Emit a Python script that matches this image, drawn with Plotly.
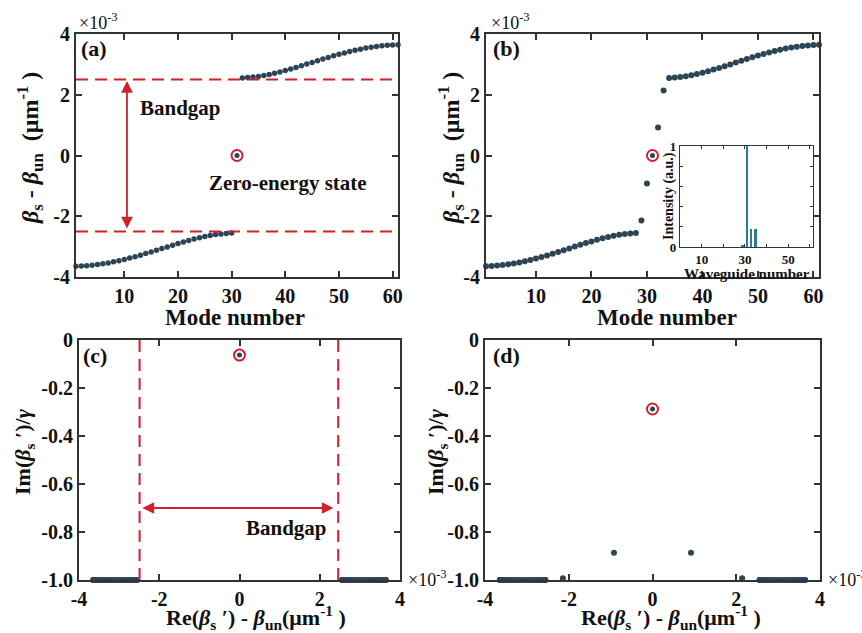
import plotly.graph_objects as go

W, H = 862, 633

# ---------------- data ----------------
# (a) eigenvalues (x1e-3 um^-1), mode numbers 1..61
a_modes_lower = list(range(1, 31))
a_lower = [-3.648, -3.640, -3.628, -3.612, -3.591, -3.565, -3.536, -3.502, -3.464, -3.423,
           -3.378, -3.331, -3.281, -3.229, -3.176, -3.121, -3.065, -3.010, -2.954, -2.900,
           -2.848, -2.797, -2.750, -2.707, -2.667, -2.633, -2.604, -2.581, -2.564, -2.553]
a_zero_mode = [31]
a_zero_val = [0.0]
a_modes_upper = list(range(32, 62))
a_upper = [2.553, 2.564, 2.581, 2.604, 2.633, 2.667, 2.707, 2.750, 2.797, 2.848,
           2.900, 2.954, 3.010, 3.065, 3.121, 3.176, 3.229, 3.281, 3.331, 3.378,
           3.423, 3.464, 3.502, 3.536, 3.565, 3.591, 3.612, 3.628, 3.640, 3.648]

# (b) eigenvalues
b_modes_lower = list(range(1, 29))
b_lower = [-3.647, -3.639, -3.625, -3.607, -3.582, -3.553, -3.520, -3.481, -3.439, -3.393,
           -3.343, -3.290, -3.235, -3.178, -3.119, -3.060, -3.000, -2.941, -2.884, -2.828,
           -2.776, -2.727, -2.683, -2.644, -2.611, -2.585, -2.566, -2.554]
b_modes_mid = [29, 30, 32, 33]
b_mid = [-2.14, -0.92, 0.92, 2.14]
b_zero_mode = [31]
b_zero_val = [0.0]
b_modes_upper = list(range(34, 62))
b_upper = [2.554, 2.566, 2.585, 2.611, 2.644, 2.683, 2.727, 2.776, 2.828, 2.884,
           2.941, 3.000, 3.060, 3.119, 3.178, 3.235, 3.290, 3.343, 3.393, 3.439,
           3.481, 3.520, 3.553, 3.582, 3.607, 3.625, 3.639, 3.647]

# inset of (b): intensity profile
inset_wg = [29, 31, 33, 35]
inset_int = [0.02, 1.0, 0.18, 0.18]

# (c) complex eigenvalues: Re (x1e-3) and Im/gamma
c_re_bands = a_lower + a_upper
c_im_bands = [-1.0] * len(c_re_bands)
c_re_zero = [0.0]
c_im_zero = [-0.063]

# (d)
d_re_bands = b_lower + b_upper
d_im_bands = [-1.0] * len(d_re_bands)
d_re_mid = [-2.14, -0.92, 0.92, 2.14]
d_im_mid = [-0.993, -0.886, -0.886, -0.993]
d_re_zero = [0.0]
d_im_zero = [-0.2875]

gap_a = [2.5, -2.5]
gap_c = [-2.49, 2.46]

# ---------------- styling ----------------
DOT = "#2c4556"
RED = "#d0202c"
TEAL = "#2a7d8c"
AX = "#333333"
FONT = "Liberation Serif"


def px_x(x0, x1):
    return [x0 / W, x1 / W]


def px_y(y0, y1):
    return [1 - y1 / H, 1 - y0 / H]


fig = go.Figure()


def dots(x, y, xa, ya, size=5.5):
    fig.add_trace(go.Scatter(x=x, y=y, mode="markers", xaxis=xa, yaxis=ya,
                             marker=dict(color=DOT, size=size), cliponaxis=False,
                             showlegend=False, hoverinfo="skip"))


def ring(x, y, xa, ya):
    fig.add_trace(go.Scatter(x=x, y=y, mode="markers", xaxis=xa, yaxis=ya,
                             marker=dict(symbol="circle-open", color=RED, size=11,
                                         line=dict(width=2, color=RED)),
                             cliponaxis=False, showlegend=False, hoverinfo="skip"))


# (a)
dots(a_modes_lower, a_lower, "x", "y")
dots(a_modes_upper, a_upper, "x", "y")
ring(a_zero_mode, a_zero_val, "x", "y")
dots(a_zero_mode, a_zero_val, "x", "y", 5)

# (b)
dots(b_modes_lower, b_lower, "x2", "y2", 6)
dots(b_modes_upper, b_upper, "x2", "y2", 6)
dots(b_modes_mid, b_mid, "x2", "y2", 6)
ring(b_zero_mode, b_zero_val, "x2", "y2")
dots(b_zero_mode, b_zero_val, "x2", "y2", 5)

# (c)
dots(c_re_bands, c_im_bands, "x3", "y3", 6)
ring(c_re_zero, c_im_zero, "x3", "y3")
dots(c_re_zero, c_im_zero, "x3", "y3", 5)

# (d)
dots(d_re_bands, d_im_bands, "x4", "y4", 6)
dots(d_re_mid, d_im_mid, "x4", "y4", 6)
ring(d_re_zero, d_im_zero, "x4", "y4")
dots(d_re_zero, d_im_zero, "x4", "y4", 5)

# inset bars
fig.add_trace(go.Bar(x=inset_wg, y=inset_int, xaxis="x5", yaxis="y5", width=0.9,
                     marker=dict(color=TEAL, line=dict(width=0)), showlegend=False,
                     hoverinfo="skip"))

tickfont = dict(family=FONT, size=20, color="#111", weight="bold")
base = dict(showline=True, linecolor=AX, linewidth=2, mirror="ticks", ticks="inside",
            ticklen=6, tickwidth=1.5, tickcolor=AX, showgrid=False, zeroline=False,
            tickfont=tickfont, automargin=False)


def b(lst):
    return ["<b>%s</b>" % s if s else "" for s in lst]


modes_ticks = [10, 20, 30, 40, 50, 60]
modes_text = ["10", "20", "30", "40", "50", "60"]
beta_ticks = [-4, -2, 0, 2, 4]
beta_text = ["-4", "-2", "0", "2", "4"]
im_ticks = [-1.0, -0.8, -0.6, -0.4, -0.2, 0]
im_text = ["-1.0", "-0.8", "-0.6", "-0.4", "-0.2", "0"]
inset_xticks = [10, 20, 30, 40, 50, 60]
inset_xtext = ["10", "", "30", "", "50", ""]
inset_yticks = [0, 0.2, 0.4, 0.6, 0.8, 1]
inset_ytext = ["0", "", "", "", "", "1"]

inset_base = dict(showline=True, linecolor=AX, linewidth=1.2, mirror="ticks", ticks="inside",
                  ticklen=3, tickwidth=1, tickcolor=AX, showgrid=False, zeroline=False,
                  tickfont=dict(family=FONT, size=13, color="#111", weight="bold"), automargin=False)

layout = dict(
    template="none",
    width=W, height=H, margin=dict(l=0, r=0, t=0, b=0, pad=0, autoexpand=False), autosize=False,
    paper_bgcolor="white", plot_bgcolor="white", bargap=0,
    xaxis=dict(base, domain=px_x(76, 398), range=[1, 61], tickvals=modes_ticks, ticktext=b(modes_text), anchor="y"),
    yaxis=dict(base, domain=px_y(34, 277), range=[-4, 4], tickvals=beta_ticks, ticktext=b(beta_text), anchor="x"),
    xaxis2=dict(base, domain=px_x(486, 819), range=[1, 61], tickvals=modes_ticks, ticktext=b(modes_text), anchor="y2"),
    yaxis2=dict(base, domain=px_y(34, 277), range=[-4, 4], tickvals=beta_ticks, ticktext=b(beta_text), anchor="x2"),
    xaxis3=dict(base, domain=px_x(79, 400), range=[-4, 4], tickvals=beta_ticks, ticktext=b(beta_text), anchor="y3"),
    yaxis3=dict(base, domain=px_y(340, 580), range=[-1, 0], tickvals=im_ticks, ticktext=b(im_text), anchor="x3"),
    xaxis4=dict(base, domain=px_x(485, 820), range=[-4, 4], tickvals=beta_ticks, ticktext=b(beta_text), anchor="y4"),
    yaxis4=dict(base, domain=px_y(340, 580), range=[-1, 0], tickvals=im_ticks, ticktext=b(im_text), anchor="x4"),
    xaxis5=dict(inset_base, domain=px_x(680, 813), range=[0, 61.5], tickvals=inset_xticks,
                ticktext=b(inset_xtext), anchor="y5"),
    yaxis5=dict(inset_base, domain=px_y(146, 247), range=[0, 1], tickvals=inset_yticks,
                ticktext=b(inset_ytext), anchor="x5"),
)
fig.update_layout(**layout)

# dashed gap lines
for yv in gap_a:
    fig.add_shape(type="line", xref="x", yref="y", x0=1, x1=61, y0=yv, y1=yv,
                  line=dict(color=RED, width=2, dash="12px,7px"))
for xv in gap_c:
    fig.add_shape(type="line", xref="x3", yref="y3", x0=xv, x1=xv, y0=-1, y1=0,
                  line=dict(color=RED, width=2, dash="12px,7px"))

ann = []


def txt(x, y, text, size=21, xanchor="center", yanchor="middle", angle=0, bold=True, xref="paper", yref="paper"):
    ann.append(dict(x=x, y=y, xref=xref, yref=yref, text=("<b>%s</b>" % text) if bold else text,
                    showarrow=False, xanchor=xanchor, yanchor=yanchor, textangle=angle,
                    font=dict(family=FONT, size=size, color="#111")))


def P(xp, yp):
    return xp / W, 1 - yp / H


# arrows
ann.append(dict(x=10.5, y=2.45, ax=10.5, ay=-2.45, xref="x", yref="y", axref="x", ayref="y",
                text="", showarrow=True, arrowhead=2, arrowside="end+start", arrowsize=1.3,
                arrowwidth=1.8, arrowcolor=RED, standoff=0, startstandoff=0))
ann.append(dict(x=-2.42, y=-0.70, ax=2.38, ay=-0.70, xref="x3", yref="y3", axref="x3", ayref="y3",
                text="", showarrow=True, arrowhead=2, arrowside="end+start", arrowsize=1.3,
                arrowwidth=1.8, arrowcolor=RED, standoff=0, startstandoff=0))

txt(20.4, 1.55, "Bandgap", xref="x", yref="y")
txt(40.5, -0.9, "Zero-energy state", xref="x", yref="y")
txt(1.18, -0.785, "Bandgap", xref="x3", yref="y3")

# panel labels
for (xp, yp, t) in [(79, 49, "(a)"), (491, 49, "(b)"), (81, 355, "(c)"), (491, 355, "(d)")]:
    x, y = P(xp, yp)
    txt(x, y, t, size=22, xanchor="left")

# x10^-3 multipliers
for (xp, yp) in [(77, 22), (489, 22), (406, 578), (826, 578)]:
    x, y = P(xp, yp)
    txt(x, y, "×10<sup>-3</sup>", size=18, xanchor="left", bold=False)

# axis titles
ytitle_ab = "<i>β</i><sub>s</sub> - <i>β</i><sub>un</sub>  (μm<sup>-1</sup> )"
ytitle_cd = "Im(<i>β</i><sub>s</sub> ′)/<i>γ</i>"
xtitle_cd = "Re(<i>β</i><sub>s</sub> ′) - <i>β</i><sub>un</sub>(μm<sup>-1</sup> )"

for (xp, yp, t, ang, sz) in [
    (30, 148, ytitle_ab, -90, 24), (451, 148, ytitle_ab, -90, 24),
    (24, 452, ytitle_cd, -90, 22), (437, 452, ytitle_cd, -90, 22),
    (235, 317, "Mode number", 0, 23), (667, 317, "Mode number", 0, 23),
    (256, 617, xtitle_cd, 0, 22), (671, 617, xtitle_cd, 0, 22),
]:
    x, y = P(xp, yp)
    txt(x, y, t, size=sz, angle=ang)

# inset titles
x, y = P(669, 196)
txt(x, y, "Intensity (a.u.)", size=14, angle=-90)
x, y = P(747, 274)
txt(x, y, "Waveguide number", size=15)

fig.update_layout(annotations=ann)
fig.write_html("out.html", config={"displayModeBar": False},
               post_script="document.body.style.margin='0';document.body.style.overflow='hidden';")
